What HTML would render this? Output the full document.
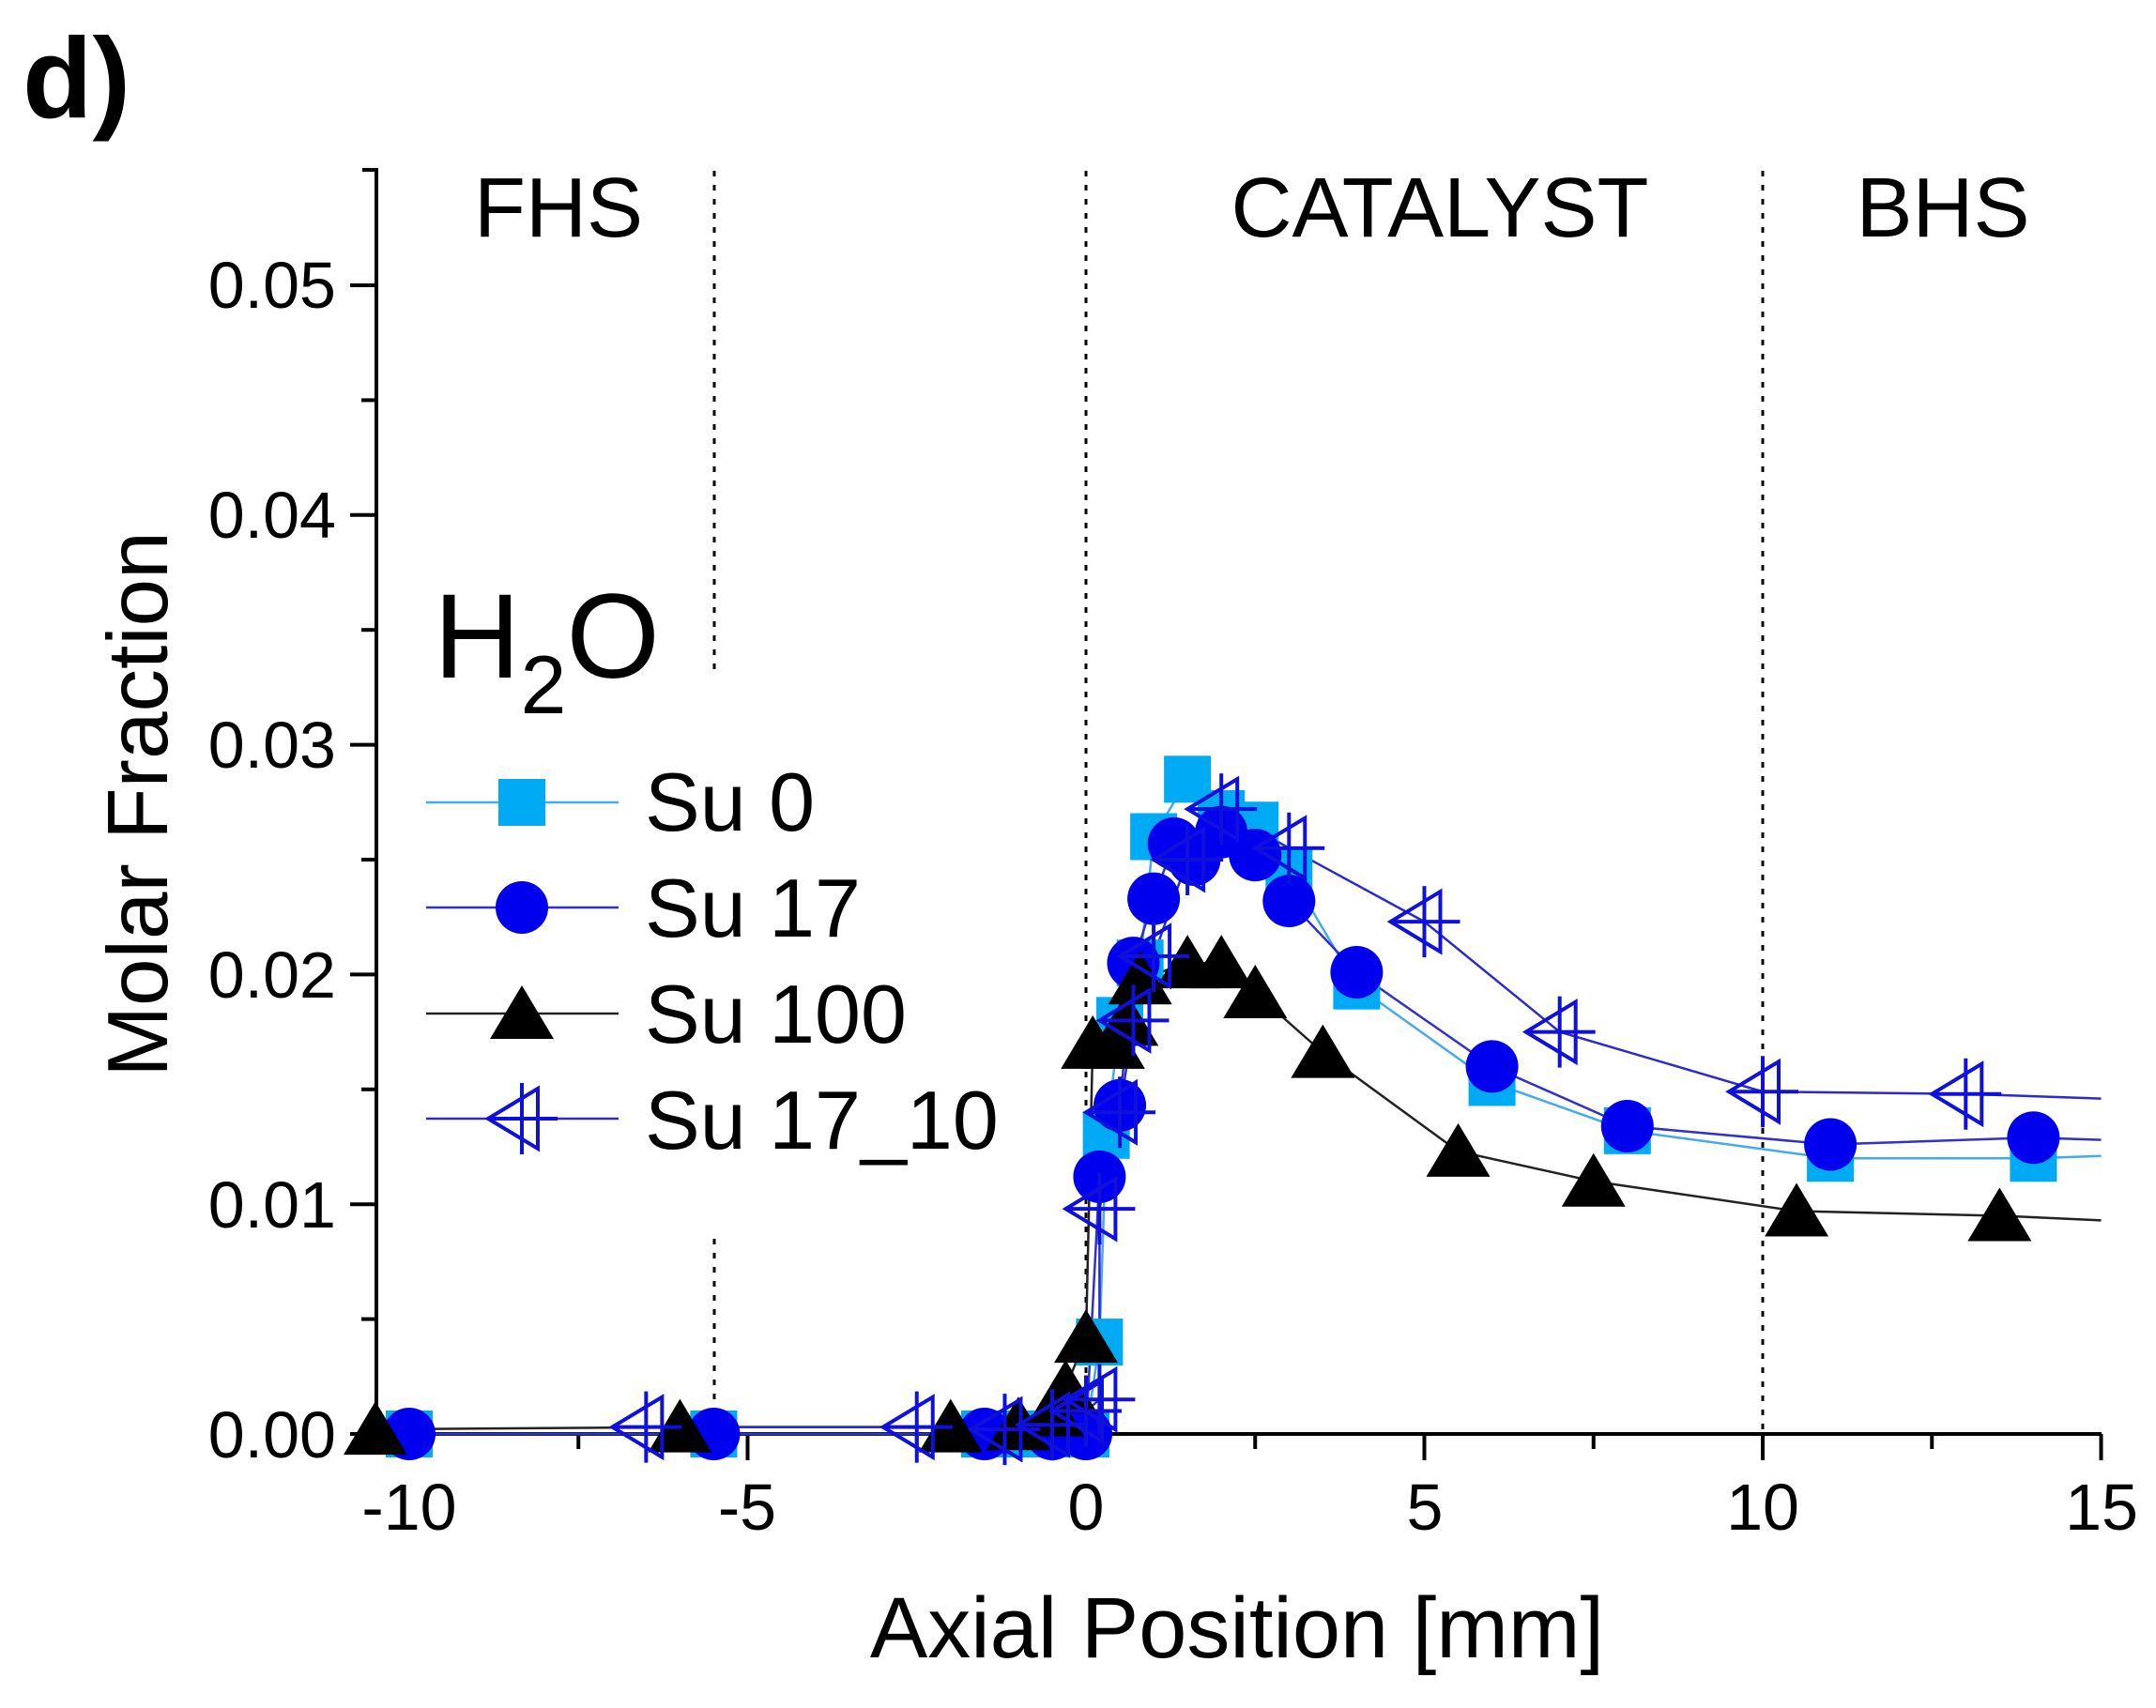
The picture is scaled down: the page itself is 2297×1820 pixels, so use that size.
<!DOCTYPE html>
<html><head><meta charset="utf-8"><style>
html,body{margin:0;padding:0;background:#fff;}
svg{display:block;font-family:"Liberation Sans",Arial,sans-serif;}
</style></head><body>
<svg id="s" width="2297" height="1820" viewBox="0 0 2297 1820" xmlns="http://www.w3.org/2000/svg">
<rect width="2297" height="1820" fill="#fff"/>
<text x="24" y="125" font-size="122" font-weight="bold">d)</text>
<g stroke="#000" stroke-width="3" stroke-dasharray="6,9">
<line x1="761" y1="182" x2="761" y2="722"/>
<line x1="761" y1="1320" x2="761" y2="1528"/>
<line x1="1157" y1="182" x2="1157" y2="1528"/>
<line x1="1878" y1="182" x2="1878" y2="1528"/>
</g>
<g font-size="90" text-anchor="middle">
<text x="595" y="252">FHS</text>
<text x="1534" y="252">CATALYST</text>
<text x="2070" y="252">BHS</text>
</g>
<text x="462" y="722" font-size="128">H<tspan font-size="88" dy="38">2</tspan><tspan dy="-38">O</tspan></text>
<g id="axes" stroke="#000" stroke-width="4" fill="none"></g>
<g font-size="70" text-anchor="end">
<text x="358" y="328">0.05</text>
<text x="358" y="573">0.04</text>
<text x="358" y="818">0.03</text>
<text x="358" y="1063">0.02</text>
<text x="358" y="1308">0.01</text>
<text x="358" y="1553">0.00</text>
</g>
<g font-size="70" text-anchor="middle">
<text x="436" y="1630">-10</text>
<text x="796" y="1630">-5</text>
<text x="1157" y="1630">0</text>
<text x="1518" y="1630">5</text>
<text x="1878" y="1630">10</text>
<text x="2239" y="1630">15</text>
</g>
<text x="1318" y="1766" font-size="92" text-anchor="middle">Axial Position [mm]</text>
<text transform="translate(178,857) rotate(-90)" font-size="91" text-anchor="middle">Molar Fraction</text>
<g id="data"></g>
<g font-size="88">
<text x="687" y="885">Su 0</text>
<text x="687" y="998">Su 17</text>
<text x="687" y="1111">Su 100</text>
<text x="687" y="1224">Su 17_10</text>
</g>
</svg>
<script>
var NS="http://www.w3.org/2000/svg";
function X(v){return 1157+72.1*v;} function Y(v){return 1528-24480*v;}
function el(p,t,a){var e=document.createElementNS(NS,t);for(var k in a)e.setAttribute(k,a[k]);p.appendChild(e);return e;}
var ax=document.getElementById('axes');
el(ax,'polyline',{points:"386,181 401,181 401,1528 2239,1528"});
for(var i=0;i<=10;i++){var y=1528-122.4*i;var L=(i%2==0)?28:16;el(ax,'line',{x1:401-L,y1:y,x2:401,y2:y});}
for(var v=-10;v<=15;v+=2.5){var L=(v%5==0)?28:16;el(ax,'line',{x1:X(v),y1:1528,x2:X(v),y2:1528+L});}
var g=document.getElementById('data');
var S0=[[-10.5,0],[-10,0],[-5.5,0],[-1.5,0],[-1,0],[-0.5,0],[0,0],[0.2,0.004],[0.3,0.013],[0.5,0.018],[0.8,0.0205],[1,0.026],[1.5,0.0285],[2,0.027],[2.5,0.0265],[3,0.0245],[4,0.0195],[6,0.0153],[8,0.0132],[11,0.012],[14,0.012],[15,0.0121]];
var S17=[[-10,0],[-5.5,0],[-1.5,0],[-0.5,0],[0,0],[0.2,0.0112],[0.5,0.0143],[0.7,0.0205],[1,0.0233],[1.3,0.0257],[1.6,0.025],[2,0.0262],[2.5,0.0252],[3,0.0232],[4,0.0201],[6,0.016],[8,0.0134],[11,0.0126],[14,0.0129],[15,0.0128]];
var S100=[[-10.5,0.0002],[-6,0.0003],[-2,0.0003],[-1,0.0004],[-0.5,0.001],[-0.3,0.002],[0,0.0042],[0.1,0.017],[0.4,0.017],[0.6,0.018],[0.8,0.0198],[1.5,0.0205],[2,0.0205],[2.5,0.0192],[3.5,0.0166],[5.5,0.0123],[7.5,0.011],[10.5,0.0097],[13.5,0.0095],[15,0.0093]];
var S1710=[[-6.5,0.0003],[-2.5,0.0003],[-1.2,0.0002],[-0.5,0.0004],[0,0.001],[0.2,0.0015],[0.2,0.0098],[0.5,0.014],[0.7,0.018],[1,0.0208],[1.5,0.025],[2,0.0272],[3,0.0255],[5,0.0223],[7,0.0175],[10,0.0149],[13,0.0148],[15,0.0146]];
function line(d,c){el(g,'polyline',{points:d.map(function(p){return X(p[0])+","+Y(p[1]);}).join(" "),fill:"none",stroke:c,"stroke-width":2.5});}
function sq(x,y){el(g,'rect',{x:x-25,y:y-25,width:50,height:50,fill:"#00aaf5"});}
function ci(x,y){el(g,'ellipse',{cx:x,cy:y,rx:28,ry:28,fill:"#0000ee"});}
function tr(x,y){el(g,'polygon',{points:(x)+","+(y-30)+" "+(x-34)+","+(y+27)+" "+(x+34)+","+(y+27),fill:"#000"});}
function lt(x,y){el(g,'path',{d:"M"+(x+17)+" "+(y-32)+"L"+(x-36)+" "+y+"L"+(x+17)+" "+(y+32)+"Z M"+x+" "+(y-38)+"V"+(y+38)+" M"+(x-36)+" "+y+"H"+(x+38),fill:"none",stroke:"#1010dd","stroke-width":4});}
line(S0,"#44aaee");line(S17,"#3030cc");line(S100,"#222");line(S1710,"#2a2ad0");
S0.slice(1,-1).forEach(function(p){sq(X(p[0]),Y(p[1]));});
S17.slice(0,-1).forEach(function(p){ci(X(p[0]),Y(p[1]));});
S100.slice(0,-1).forEach(function(p){tr(X(p[0]),Y(p[1]));});
S1710.slice(0,-1).forEach(function(p){lt(X(p[0]),Y(p[1]));});
var ly=[855,967,1080,1192],lc=["#44aaee","#3030cc","#222","#2a2ad0"];
for(var i=0;i<4;i++)el(g,'line',{x1:454,y1:ly[i],x2:659,y2:ly[i],stroke:lc[i],"stroke-width":2.5});
sq(556,855);ci(556,967);tr(556,1080);lt(556,1192);
</script>
</body></html>
